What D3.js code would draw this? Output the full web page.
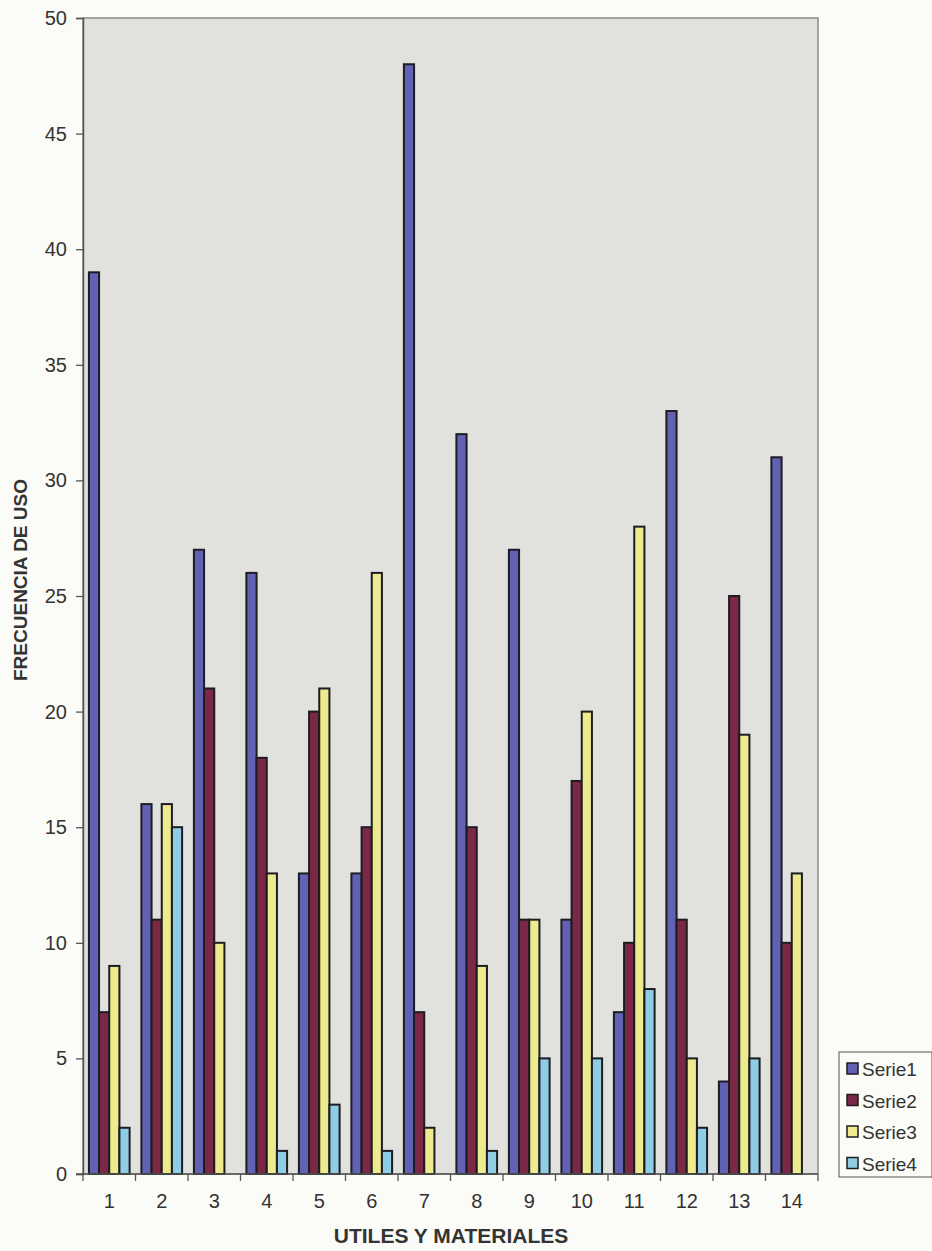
<!DOCTYPE html>
<html>
<head>
<meta charset="utf-8">
<script src="https://cdn.jsdelivr.net/npm/d3@7"></script>
<style>
  body { margin: 0; background: #fbfbf7; }
  svg { display: block; font-family: Arial, "Liberation Sans", sans-serif; }
</style>
</head>
<body>
<div id="chart"></div>
<script>
// Data
var categories = ["1", "2", "3", "4", "5", "6", "7", "8", "9", "10", "11", "12", "13", "14"];
var seriesNames = ["Serie1", "Serie2", "Serie3", "Serie4"];
var serie1 = [39, 16, 27, 26, 13, 13, 48, 32, 27, 11, 7, 33, 4, 31];
var serie2 = [7, 11, 21, 18, 20, 15, 7, 15, 11, 17, 10, 11, 25, 10];
var serie3 = [9, 16, 10, 13, 21, 26, 2, 9, 11, 20, 28, 5, 19, 13];
var serie4 = [2, 15, 0, 1, 3, 1, 0, 1, 5, 5, 8, 2, 5, 0];
var yTicks = [0, 5, 10, 15, 20, 25, 30, 35, 40, 45, 50];

var allSeries = [serie1, serie2, serie3, serie4];
var colors = ["#6262b4", "#7b2846", "#eeea8e", "#8ecde3"];

var width = 932, height = 1251;
var plotL = 83, plotR = 818, plotT = 18, plotB = 1174;

var svg = d3.select("#chart").append("svg")
  .attr("width", width)
  .attr("height", height);

var x = d3.scaleBand().domain(categories).range([plotL, plotR]).padding(0);
var x1 = d3.scaleBand().domain(seriesNames).range([0, x.bandwidth()])
  .paddingInner(0).paddingOuter(0.58);
var y = d3.scaleLinear().domain([0, 50]).range([plotB, plotT]);

// plot area
svg.append("rect")
  .attr("x", plotL).attr("y", plotT)
  .attr("width", plotR - plotL).attr("height", plotB - plotT)
  .attr("fill", "#e1e1de")
  .attr("stroke", "#8a8a8a")
  .attr("stroke-width", 1.5);

// bars
var groups = svg.selectAll(".cat")
  .data(categories)
  .enter().append("g")
  .attr("class", "cat")
  .attr("transform", function(d) { return "translate(" + x(d) + ",0)"; });

groups.selectAll("rect")
  .data(function(d, i) {
    return seriesNames.map(function(s, j) { return { s: s, v: allSeries[j][i], j: j }; })
      .filter(function(e) { return e.v > 0; });
  })
  .enter().append("rect")
  .attr("x", function(d) { return x1(d.s); })
  .attr("y", function(d) { return y(d.v); })
  .attr("width", x1.bandwidth())
  .attr("height", function(d) { return plotB - y(d.v); })
  .attr("fill", function(d) { return colors[d.j]; })
  .attr("stroke", "#1c1c22")
  .attr("stroke-width", 2);

// y axis
var yAxis = svg.append("g")
  .attr("transform", "translate(" + plotL + ",0)")
  .call(d3.axisLeft(y).tickValues(yTicks).tickSize(7).tickPadding(9));
yAxis.select(".domain").attr("stroke", "#555").attr("stroke-width", 1.5);
yAxis.selectAll(".tick line").attr("stroke", "#555").attr("stroke-width", 1.3);
yAxis.selectAll("text").attr("font-size", 20).attr("fill", "#333")
  .attr("font-family", "Arial, 'Liberation Sans', sans-serif");

// x axis
var xTickPos = d3.range(categories.length + 1).map(function(i) { return plotL + i * x.step(); });
var xAxis = svg.append("g")
  .attr("transform", "translate(0," + plotB + ")");
xAxis.append("line")
  .attr("x1", plotL - 7).attr("x2", plotR)
  .attr("stroke", "#555").attr("stroke-width", 1.5);
xAxis.selectAll(".xt")
  .data(xTickPos)
  .enter().append("line")
  .attr("x1", function(d) { return d; }).attr("x2", function(d) { return d; })
  .attr("y1", 0).attr("y2", 7)
  .attr("stroke", "#555").attr("stroke-width", 1.3);
xAxis.selectAll(".xl")
  .data(categories)
  .enter().append("text")
  .attr("x", function(d) { return x(d) + x.bandwidth() / 2; })
  .attr("y", 34)
  .attr("text-anchor", "middle")
  .attr("font-size", 20)
  .attr("fill", "#333")
  .text(function(d) { return d; });

// axis titles
svg.append("text")
  .attr("x", 451).attr("y", 1243)
  .attr("text-anchor", "middle")
  .attr("font-size", 21).attr("font-weight", "bold").attr("fill", "#333")
  .text("UTILES Y MATERIALES");

svg.append("text")
  .attr("transform", "translate(27,580) rotate(-90)")
  .attr("text-anchor", "middle")
  .attr("font-size", 19).attr("font-weight", "bold").attr("fill", "#333")
  .text("FRECUENCIA DE USO");

// legend
var legend = svg.append("g").attr("transform", "translate(839,1052)");
legend.append("rect")
  .attr("width", 93).attr("height", 125)
  .attr("fill", "#fbfbf7").attr("stroke", "#555").attr("stroke-width", 1);
var li = legend.selectAll(".li")
  .data(seriesNames)
  .enter().append("g")
  .attr("transform", function(d, i) { return "translate(8," + (17 + i * 31.5) + ")"; });
li.append("rect")
  .attr("x", 0).attr("y", -6)
  .attr("width", 11).attr("height", 11)
  .attr("fill", function(d, i) { return colors[i]; })
  .attr("stroke", "#1c1c22").attr("stroke-width", 1.5);
li.append("text")
  .attr("x", 15).attr("y", 7)
  .attr("font-size", 19).attr("fill", "#333")
  .text(function(d) { return d; });
</script>
</body>
</html>
